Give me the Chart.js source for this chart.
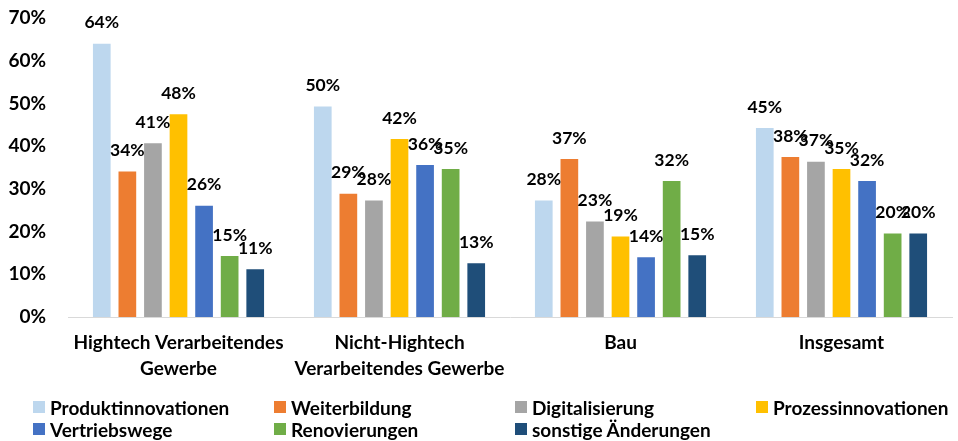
<!DOCTYPE html>
<html>
<head>
<meta charset="utf-8">
<script src="https://cdn.jsdelivr.net/npm/chart.js@4"></script>
<style>
  html, body { margin:0; padding:0; background:#fff; }
  #wrap { position:relative; width:958px; height:441px; }
  canvas { position:absolute; left:0; top:0; }
  .lg { position:absolute; display:flex; align-items:center; font-family:Lato, "Open Sans", sans-serif; font-weight:700; font-size:19px; color:#000; white-space:nowrap; line-height:1; }
  .lg span.sw { display:inline-block; width:12px; height:12px; margin-right:5px; }
</style>
</head>
<body>
<div id="wrap">
  <canvas id="c" width="958" height="441"></canvas>
  <div id="legend"></div>
</div>
<script>
const categories = [
  ['Hightech Verarbeitendes', 'Gewerbe'],
  ['Nicht-Hightech', 'Verarbeitendes Gewerbe'],
  'Bau',
  'Insgesamt'
];
const seriesNames = ['Produktinnovationen', 'Weiterbildung', 'Digitalisierung', 'Prozessinnovationen', 'Vertriebswege', 'Renovierungen', 'sonstige Änderungen'];
const seriesColors = ['#BDD7EE', '#ED7D31', '#A5A5A5', '#FFC000', '#4472C4', '#70AD47', '#1F4E79'];
const produktinnovationen = [64.2, 49.5, 27.5, 44.5];
const weiterbildung      = [34.3, 29.1, 37.2, 37.7];
const digitalisierung    = [40.9, 27.5, 22.6, 36.6];
const prozessinnovationen= [47.7, 41.9, 19.1, 34.9];
const vertriebswege      = [26.3, 35.8, 14.2, 32.1];
const renovierungen      = [14.5, 34.9, 32.1, 19.8];
const sonstige           = [11.4, 12.8, 14.7, 19.8];
const seriesValues = [produktinnovationen, weiterbildung, digitalisierung, prozessinnovationen, vertriebswege, renovierungen, sonstige];
const yTicks = [0, 10, 20, 30, 40, 50, 60, 70];

const FONT = 'Lato, "Open Sans", sans-serif';

const labelPlugin = {
  id: 'barLabels',
  afterDatasetsDraw(chart) {
    const ctx = chart.ctx;
    ctx.save();
    ctx.font = '700 17.5px ' + FONT;
    ctx.fillStyle = '#000';
    ctx.textAlign = 'center';
    ctx.textBaseline = 'middle';
    chart.data.datasets.forEach((ds, i) => {
      const meta = chart.getDatasetMeta(i);
      meta.data.forEach((bar, j) => {
        ctx.fillText(Math.round(ds.data[j]) + '%', bar.x, bar.y - 20);
      });
    });
    ctx.restore();
  }
};

new Chart(document.getElementById('c'), {
  type: 'bar',
  data: {
    labels: categories,
    datasets: seriesNames.map((n, i) => ({
      label: n,
      data: seriesValues[i],
      backgroundColor: seriesColors[i],
      borderColor: '#ffffff',
      borderWidth: 1,
      categoryPercentage: 0.81,
      barPercentage: 0.77
    }))
  },
  options: {
    responsive: false,
    animation: false,
    layout: { padding: { top: 0, right: 6, bottom: 0, left: 0 } },
    plugins: { legend: { display: false }, tooltip: { enabled: false } },
    scales: {
      x: {
        grid: { display: false },
        border: { display: true, color: '#D9D9D9', width: 1 },
        ticks: { color: '#000', padding: 5, font: { family: FONT, weight: '700', size: 19, lineHeight: 1.37 }, maxRotation: 0, autoSkip: false },
        afterFit(s) { s.height = 124; }
      },
      y: {
        min: 0, max: 70,
        afterBuildTicks(s) { s.ticks = yTicks.map(v => ({ value: v })); },
        grid: { display: false },
        border: { display: false },
        ticks: { color: '#000', padding: 14, font: { family: FONT, weight: '700', size: 19 }, callback: v => v + '%' },
        afterFit(s) { s.width = 68; s.paddingTop = 18; s.paddingBottom = 11; }
      }
    }
  },
  plugins: [labelPlugin]
});

// legend
const lg = document.getElementById('legend');
seriesNames.forEach((n, i) => {
  const col = i % 4, row = Math.floor(i / 4);
  const d = document.createElement('div');
  d.className = 'lg';
  d.style.left = (33 + col * 241) + 'px';
  d.style.top = (397 + row * 22) + 'px';
  d.style.height = '20px';
  const sw = document.createElement('span');
  sw.className = 'sw';
  sw.style.background = seriesColors[i];
  d.appendChild(sw);
  d.appendChild(document.createTextNode(n));
  lg.appendChild(d);
});
</script>
</body>
</html>
